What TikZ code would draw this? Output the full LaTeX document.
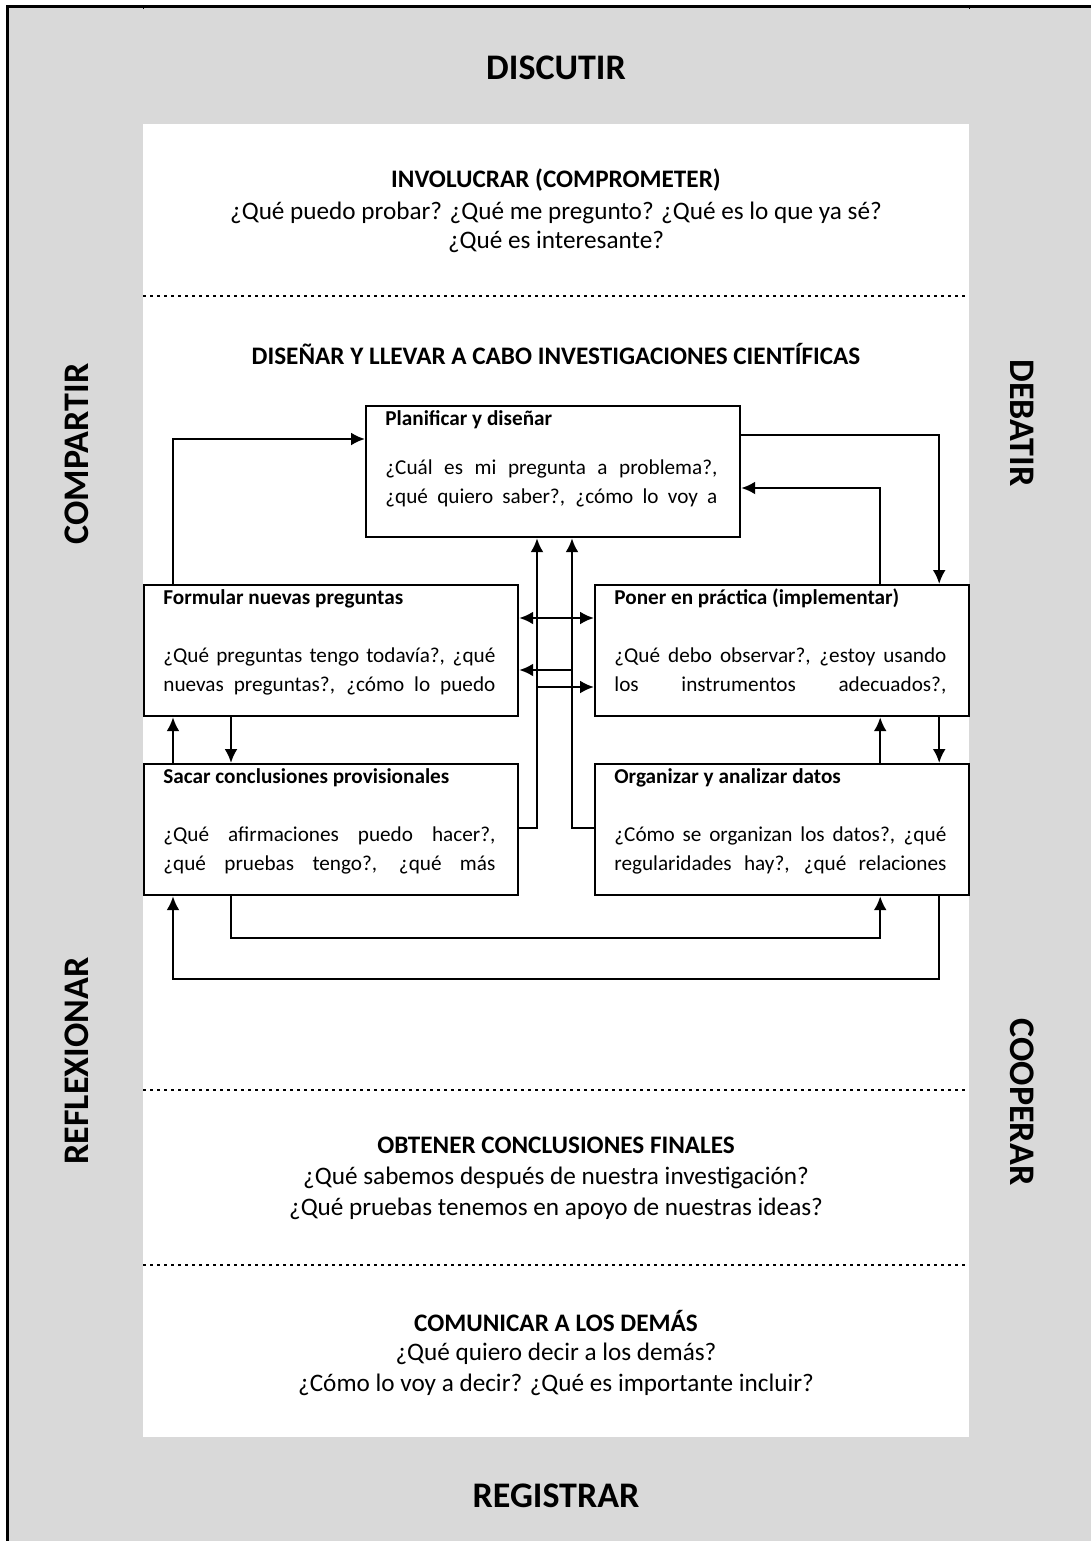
\documentclass[tikz,border=0pt]{standalone}
\usepackage{fontspec}
\setmainfont{Carlito}
\usetikzlibrary{arrows.meta, calc}
\definecolor{bggray}{HTML}{D9D9D9}

% one stage box: [body offset], name, top-left x, top-left y, title, line 1, line 2
\newcommand{\stage}[7][78]{%
	\node[stagebox] (#2) at (#3,#4) {};
	\node[stagetitle] (#2-t) at ($(#2.north west)+(20,20)$) {#5};
	\node[stageline] (#2-a) at ($(#2.north west)+(20,#1)$) {\makebox[166pt][s]{#6}};
	\node[stageline] (#2-b) at ($(#2.north west)+(20,#1+29)$) {\makebox[166pt][s]{#7}};
}

\tikzset{
	stagebox/.style={draw, line width=1.1pt, fill=white, minimum width=187pt,
		minimum height=65.5pt, inner sep=0pt, anchor=north west},
	stagetitle/.style={anchor=base west, inner sep=0pt, font=\fontsize{10.6}{12}\selectfont\bfseries},
	stageline/.style={anchor=base west, inner sep=0pt, font=\fontsize{10.6}{12}\selectfont},
	sidelabel/.style={inner sep=0pt, font=\fontsize{18}{21}\selectfont\bfseries},
	head/.style={inner sep=0pt, font=\fontsize{12.6}{15}\selectfont\bfseries},
	ask/.style={inner sep=0pt, font=\fontsize{12.6}{15}\selectfont},
	sepline/.style={line width=1pt, dash pattern=on 1.5pt off 2pt},
	link/.style={line width=1.2pt, ->},
}

\begin{document}
\begin{tikzpicture}[x=0.5pt, y=-0.5pt, >={Latex[length=7pt,width=6.5pt]}, line join=miter]

\useasboundingbox (0,0) rectangle (1091,1541);

%========================
% Frame: grey border and white panel
%========================
\fill[bggray] (7,6) rectangle (1091,1541);
\fill[white] (143,124) rectangle (969,1437);
\draw[line width=1.2pt] (7.5,1541) -- (7.5,6.5) -- (1091,6.5);
\draw[line width=0.5pt] (143,6) -- (143,9);
\draw[line width=0.5pt] (969,6) -- (969,9);

% outer labels
\node[sidelabel] (discutir) at (556,68) {DISCUTIR};
\node[sidelabel] (registrar) at (556,1496) {REGISTRAR};
\node[sidelabel, rotate=90] (compartir) at (77,454) {COMPARTIR};
\node[sidelabel, rotate=90] (reflexionar) at (77,1061) {REFLEXIONAR};
\node[sidelabel, rotate=-90] (debatir) at (1022,423) {DEBATIR};
\node[sidelabel, rotate=-90] (cooperar) at (1022,1102) {COOPERAR};

% separators
\draw[sepline] (143,296) -- (969,296);
\draw[sepline] (143,1090) -- (969,1090);
\draw[sepline] (143,1265) -- (969,1265);

%========================
% Top: involucrar
%========================
\node[head] (involucrar) at (556,180) {INVOLUCRAR (COMPROMETER)};
\node[ask] (inv-a) at (556,213) {¿Qué puedo probar? ¿Qué me pregunto? ¿Qué es lo que ya sé?};
\node[ask] (inv-b) at (556,242) {¿Qué es interesante?};

%========================
% Middle: investigation cycle
%========================
\node[head] (disenar) at (556,354) {DISEÑAR Y LLEVAR A CABO INVESTIGACIONES CIENTÍFICAS};

\stage[69]{plan}{365}{405}{Planificar y diseñar}
	{¿Cuál es mi pregunta a problema?,}{¿qué quiero saber?, ¿cómo lo voy a}
\stage{form}{143}{584}{Formular nuevas preguntas}
	{¿Qué preguntas tengo todavía?, ¿qué}{nuevas preguntas?, ¿cómo lo puedo}
\stage{poner}{594}{584}{Poner en práctica (implementar)}
	{¿Qué debo observar?, ¿estoy usando}{los instrumentos adecuados?,}
\stage{sacar}{143}{763}{Sacar conclusiones provisionales}
	{¿Qué afirmaciones puedo hacer?,}{¿qué pruebas tengo?, ¿qué más}
\stage{org}{594}{763}{Organizar y analizar datos}
	{¿Cómo se organizan los datos?, ¿qué}{regularidades hay?, ¿qué relaciones}

% helper points
\coordinate (sx) at ($(plan.south west)+(172,0)$);
\coordinate (ox) at ($(plan.south west)+(207,0)$);
\coordinate (toponer) at ($(poner.north west)+(0,103)$);
\coordinate (toform) at ($(form.north east)+(0,86)$);

% connectors
\draw[link] ($(form.north west)+(30,0)$) |- ($(plan.north west)+(0,34)$);
\draw[link] ($(plan.north east)+(0,30)$) -| ($(poner.north east)+(-31,0)$);
\draw[link] ($(poner.north east)+(-90,0)$) |- ($(plan.north east)+(0,83)$);
\draw[link] ($(sacar.north east)+(0,65)$) -| (sx);
\draw[link] ($(org.north west)+(0,65)$) -| (ox);
\draw[link] (sx |- toponer) -- (toponer);
\draw[link] (ox |- toform) -- (toform);
\draw[link, <->] ($(form.north east)+(0,34)$) -- ($(poner.north west)+(0,34)$);
\draw[link] ($(form.south west)+(88,0)$) -- ($(sacar.north west)+(88,0)$);
\draw[link] ($(sacar.north west)+(30,0)$) -- ($(form.south west)+(30,0)$);
\draw[link] ($(poner.south east)+(-31,0)$) -- ($(org.north east)+(-31,0)$);
\draw[link] ($(org.north east)+(-90,0)$) -- ($(poner.south east)+(-90,0)$);
\draw[link] ($(sacar.south west)+(88,0)$) -- ++(0,42) -| ($(org.south east)+(-90,0)$);
\draw[link] ($(org.south east)+(-31,0)$) -- ++(0,83) -| ($(sacar.south west)+(30,0)$);

%========================
% Bottom: final conclusions and communication
%========================
\node[head] (obtener) at (556,1145) {OBTENER CONCLUSIONES FINALES};
\node[ask] (obt-a) at (556,1178) {¿Qué sabemos después de nuestra investigación?};
\node[ask] (obt-b) at (556,1209) {¿Qué pruebas tenemos en apoyo de nuestras ideas?};

\node[head] (comunicar) at (556,1321) {COMUNICAR A LOS DEMÁS};
\node[ask] (com-a) at (556,1354) {¿Qué quiero decir a los demás?};
\node[ask] (com-b) at (556,1385) {¿Cómo lo voy a decir? ¿Qué es importante incluir?};

\end{tikzpicture}
\end{document}
